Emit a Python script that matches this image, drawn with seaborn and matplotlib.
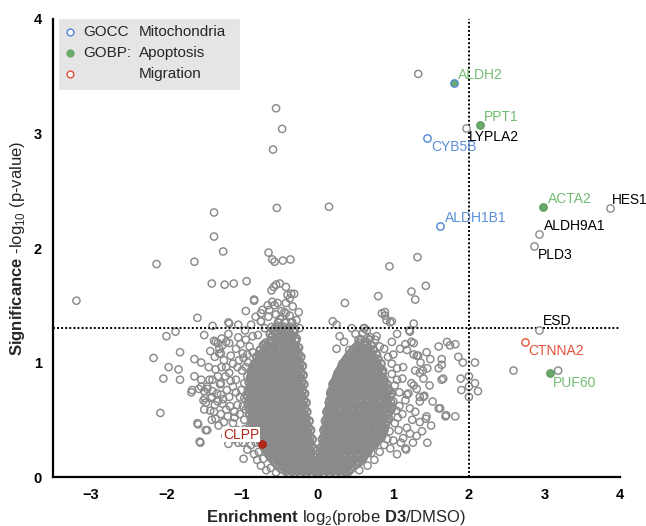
import matplotlib
matplotlib.use("Agg")
import matplotlib.pyplot as plt
import seaborn as sns
import pandas as pd
from matplotlib.patches import Rectangle

# dense core of the volcano: (-log10 p, [log2 enrichment values]) per row
left_rows = [
    (0.03, [-0.01, -0.08, -0.15, -0.23, -0.30, -0.38]),
    (0.05, [-0.03, -0.12, -0.19, -0.27, -0.34, -0.42]),
    (0.07, [-0.04, -0.11, -0.19, -0.26, -0.34, -0.41, -0.48]),
    (0.09, [-0.02, -0.08, -0.15, -0.22, -0.30, -0.37, -0.45, -0.51]),
    (0.11, [-0.04, -0.11, -0.18, -0.26, -0.33, -0.40, -0.47, -0.54]),
    (0.13, [-0.07, -0.15, -0.22, -0.30, -0.36, -0.44, -0.50, -0.57]),
    (0.15, [-0.07, -0.14, -0.22, -0.29, -0.37, -0.44, -0.52, -0.59]),
    (0.17, [-0.03, -0.10, -0.18, -0.25, -0.33, -0.40, -0.48, -0.55, -0.62]),
    (0.19, [-0.06, -0.13, -0.21, -0.28, -0.36, -0.43, -0.50, -0.57, -0.64]),
    (0.21, [-0.09, -0.17, -0.24, -0.32, -0.39, -0.47, -0.54, -0.61, -0.66]),
    (0.23, [-0.09, -0.16, -0.24, -0.31, -0.39, -0.46, -0.53, -0.61, -0.68]),
    (0.25, [-0.05, -0.12, -0.20, -0.27, -0.35, -0.42, -0.49, -0.57, -0.64, -0.70]),
    (0.27, [-0.08, -0.15, -0.23, -0.30, -0.38, -0.45, -0.52, -0.60, -0.67, -0.72]),
    (0.29, [-0.11, -0.19, -0.26, -0.34, -0.41, -0.49, -0.56, -0.63, -0.71]),
    (0.31, [-0.11, -0.18, -0.26, -0.33, -0.41, -0.48, -0.55, -0.63, -0.70, -0.76]),
    (0.33, [-0.07, -0.14, -0.22, -0.29, -0.37, -0.44, -0.51, -0.59, -0.66, -0.74]),
    (0.35, [-0.10, -0.17, -0.25, -0.32, -0.40, -0.47, -0.54, -0.62, -0.69, -0.77]),
    (0.37, [-0.13, -0.21, -0.28, -0.36, -0.43, -0.51, -0.58, -0.65, -0.73, -0.79]),
    (0.39, [-0.13, -0.20, -0.28, -0.35, -0.43, -0.50, -0.57, -0.65, -0.72, -0.80]),
    (0.41, [-0.09, -0.16, -0.24, -0.31, -0.39, -0.46, -0.53, -0.61, -0.68, -0.75, -0.82]),
    (0.43, [-0.12, -0.19, -0.27, -0.34, -0.42, -0.49, -0.56, -0.64, -0.71, -0.78, -0.85]),
    (0.45, [-0.15, -0.23, -0.30, -0.38, -0.45, -0.53, -0.60, -0.67, -0.75, -0.83]),
    (0.47, [-0.15, -0.22, -0.30, -0.37, -0.45, -0.52, -0.59, -0.67, -0.74, -0.81, -0.87]),
    (0.49, [-0.11, -0.18, -0.26, -0.33, -0.41, -0.48, -0.55, -0.63, -0.70, -0.78, -0.85]),
    (0.51, [-0.15, -0.22, -0.29, -0.37, -0.44, -0.51, -0.59, -0.66, -0.73, -0.81, -0.88]),
    (0.53, [-0.18, -0.26, -0.33, -0.40, -0.48, -0.55, -0.62, -0.70, -0.77, -0.85]),
    (0.55, [-0.18, -0.25, -0.33, -0.40, -0.48, -0.55, -0.62, -0.70, -0.77, -0.84, -0.90]),
    (0.57, [-0.14, -0.21, -0.28, -0.36, -0.43, -0.51, -0.58, -0.65, -0.73, -0.80, -0.87]),
    (0.59, [-0.17, -0.24, -0.31, -0.39, -0.46, -0.53, -0.61, -0.68, -0.75, -0.83, -0.90]),
    (0.61, [-0.21, -0.28, -0.35, -0.43, -0.50, -0.57, -0.65, -0.72, -0.79, -0.87]),
    (0.63, [-0.19, -0.26, -0.34, -0.41, -0.49, -0.56, -0.63, -0.71, -0.78, -0.85, -0.92]),
    (0.65, [-0.15, -0.22, -0.30, -0.37, -0.44, -0.52, -0.59, -0.66, -0.74, -0.81, -0.88]),
    (0.67, [-0.18, -0.25, -0.32, -0.40, -0.47, -0.54, -0.62, -0.69, -0.76, -0.84, -0.91]),
    (0.69, [-0.22, -0.29, -0.36, -0.44, -0.51, -0.58, -0.66, -0.73, -0.80, -0.88]),
    (0.71, [-0.21, -0.28, -0.36, -0.43, -0.51, -0.58, -0.65, -0.73, -0.80, -0.87, -0.93]),
    (0.73, [-0.17, -0.24, -0.32, -0.39, -0.47, -0.54, -0.62, -0.69, -0.76, -0.84, -0.90]),
    (0.75, [-0.20, -0.27, -0.34, -0.42, -0.49, -0.56, -0.64, -0.71, -0.78, -0.86, -0.92]),
    (0.77, [-0.23, -0.31, -0.38, -0.45, -0.53, -0.60, -0.68, -0.75, -0.82, -0.89]),
    (0.79, [-0.22, -0.29, -0.37, -0.44, -0.52, -0.59, -0.66, -0.74, -0.81, -0.88]),
    (0.81, [-0.18, -0.25, -0.33, -0.40, -0.48, -0.55, -0.62, -0.70, -0.77, -0.84]),
    (0.83, [-0.21, -0.28, -0.35, -0.43, -0.50, -0.57, -0.65, -0.72, -0.79, -0.87, -0.91]),
    (0.85, [-0.24, -0.32, -0.39, -0.47, -0.54, -0.61, -0.69, -0.76, -0.83, -0.89]),
    (0.87, [-0.23, -0.30, -0.38, -0.45, -0.53, -0.60, -0.67, -0.75, -0.82, -0.89]),
    (0.89, [-0.19, -0.26, -0.34, -0.41, -0.49, -0.56, -0.63, -0.71, -0.78, -0.85]),
    (0.91, [-0.22, -0.29, -0.36, -0.44, -0.51, -0.58, -0.66, -0.73, -0.80, -0.87]),
    (0.93, [-0.25, -0.33, -0.40, -0.47, -0.55, -0.62, -0.69, -0.77, -0.84]),
    (0.95, [-0.24, -0.31, -0.39, -0.46, -0.54, -0.61, -0.68, -0.76, -0.83]),
    (0.97, [-0.20, -0.27, -0.35, -0.42, -0.50, -0.57, -0.64, -0.72, -0.79, -0.85]),
    (0.99, [-0.23, -0.30, -0.37, -0.45, -0.52, -0.59, -0.67, -0.74, -0.81]),
    (1.01, [-0.26, -0.34, -0.41, -0.49, -0.56, -0.63, -0.71, -0.78]),
    (1.03, [-0.26, -0.33, -0.41, -0.48, -0.56, -0.63, -0.70, -0.78]),
    (1.05, [-0.22, -0.29, -0.37, -0.44, -0.52, -0.59, -0.66, -0.74, -0.81]),
    (1.07, [-0.25, -0.32, -0.39, -0.47, -0.54, -0.61, -0.69, -0.77]),
    (1.09, [-0.28, -0.36, -0.43, -0.51, -0.58, -0.65, -0.72]),
    (1.11, [-0.28, -0.36, -0.44, -0.52, -0.60, -0.68, -0.76]),
    (1.13, [-0.25, -0.33, -0.41, -0.50, -0.58, -0.64]),
    (1.15, [-0.30, -0.39, -0.48, -0.57, -0.66, -0.72]),
    (1.17, [-0.34, -0.43, -0.52, -0.61, -0.69]),
    (1.19, [-0.29, -0.37, -0.46, -0.55, -0.63]),
    (1.21, [-0.28, -0.38, -0.47, -0.56]),
    (1.23, [-0.33, -0.42, -0.51, -0.60]),
    (1.25, [-0.36, -0.45, -0.54, -0.63]),
    (1.27, [-0.31, -0.40, -0.49, -0.58]),
    (1.29, [-0.31, -0.41, -0.50]),
    (1.31, [-0.36, -0.45, -0.54]),
    (1.35, [-0.34, -0.43, -0.52]),
]

right_rows = [
    (0.03, [0.01, 0.08, 0.16, 0.24, 0.32, 0.38]),
    (0.05, [0.03, 0.12, 0.20, 0.28, 0.36, 0.41]),
    (0.07, [0.04, 0.12, 0.20, 0.28, 0.36, 0.44]),
    (0.09, [0.02, 0.07, 0.15, 0.23, 0.31, 0.39, 0.47]),
    (0.11, [0.03, 0.10, 0.18, 0.27, 0.35, 0.43, 0.51]),
    (0.13, [0.03, 0.10, 0.19, 0.27, 0.35, 0.44, 0.52, 0.55]),
    (0.15, [0.06, 0.14, 0.23, 0.31, 0.40, 0.48, 0.57]),
    (0.17, [0.04, 0.09, 0.18, 0.26, 0.35, 0.43, 0.52, 0.60]),
    (0.19, [0.05, 0.12, 0.20, 0.29, 0.37, 0.46, 0.54, 0.62]),
    (0.21, [0.06, 0.13, 0.21, 0.29, 0.37, 0.46, 0.54, 0.63, 0.66]),
    (0.23, [0.07, 0.16, 0.24, 0.33, 0.41, 0.50, 0.58, 0.67]),
    (0.25, [0.04, 0.10, 0.18, 0.27, 0.35, 0.44, 0.52, 0.61, 0.69]),
    (0.27, [0.06, 0.14, 0.22, 0.31, 0.39, 0.48, 0.56, 0.65, 0.73]),
    (0.29, [0.08, 0.14, 0.22, 0.31, 0.39, 0.48, 0.56, 0.65, 0.73, 0.76]),
    (0.31, [0.09, 0.18, 0.26, 0.35, 0.43, 0.52, 0.60, 0.69, 0.77]),
    (0.33, [0.06, 0.12, 0.20, 0.29, 0.37, 0.46, 0.54, 0.63, 0.71, 0.79]),
    (0.35, [0.08, 0.16, 0.24, 0.33, 0.41, 0.50, 0.58, 0.67, 0.75, 0.82]),
    (0.37, [0.10, 0.16, 0.24, 0.33, 0.41, 0.50, 0.58, 0.67, 0.75, 0.84]),
    (0.39, [0.11, 0.20, 0.28, 0.37, 0.45, 0.54, 0.62, 0.71, 0.79, 0.86]),
    (0.41, [0.08, 0.15, 0.24, 0.32, 0.41, 0.49, 0.58, 0.66, 0.75, 0.83, 0.88]),
    (0.43, [0.10, 0.18, 0.26, 0.35, 0.43, 0.52, 0.60, 0.69, 0.77, 0.86]),
    (0.45, [0.12, 0.17, 0.26, 0.34, 0.43, 0.51, 0.60, 0.68, 0.77, 0.85]),
    (0.47, [0.13, 0.22, 0.30, 0.39, 0.47, 0.56, 0.64, 0.73, 0.81, 0.90]),
    (0.49, [0.10, 0.16, 0.24, 0.33, 0.41, 0.50, 0.58, 0.67, 0.75, 0.84, 0.92]),
    (0.51, [0.12, 0.20, 0.28, 0.37, 0.45, 0.54, 0.62, 0.71, 0.79, 0.88, 0.94]),
    (0.53, [0.14, 0.20, 0.29, 0.37, 0.46, 0.54, 0.63, 0.71, 0.80, 0.88]),
    (0.55, [0.15, 0.24, 0.32, 0.41, 0.49, 0.58, 0.66, 0.75, 0.83, 0.92]),
    (0.57, [0.12, 0.19, 0.28, 0.36, 0.45, 0.53, 0.62, 0.70, 0.79, 0.87, 0.95]),
    (0.59, [0.14, 0.22, 0.30, 0.39, 0.47, 0.56, 0.64, 0.73, 0.81, 0.90, 0.97]),
    (0.61, [0.16, 0.22, 0.30, 0.39, 0.47, 0.56, 0.64, 0.73, 0.81, 0.90, 0.98]),
    (0.63, [0.17, 0.26, 0.34, 0.43, 0.51, 0.60, 0.68, 0.77, 0.85, 0.94]),
    (0.65, [0.15, 0.21, 0.30, 0.38, 0.47, 0.55, 0.64, 0.72, 0.81, 0.89, 0.97]),
    (0.67, [0.16, 0.24, 0.32, 0.41, 0.49, 0.58, 0.66, 0.75, 0.83, 0.92]),
    (0.69, [0.18, 0.24, 0.32, 0.41, 0.49, 0.58, 0.66, 0.75, 0.83, 0.92]),
    (0.71, [0.19, 0.28, 0.36, 0.45, 0.53, 0.62, 0.70, 0.79, 0.87, 0.96]),
    (0.73, [0.17, 0.23, 0.32, 0.40, 0.49, 0.57, 0.66, 0.74, 0.83, 0.91, 0.98]),
    (0.75, [0.18, 0.26, 0.34, 0.43, 0.51, 0.60, 0.68, 0.77, 0.85, 0.94]),
    (0.77, [0.20, 0.26, 0.34, 0.43, 0.51, 0.60, 0.68, 0.77, 0.85, 0.93]),
    (0.79, [0.21, 0.30, 0.38, 0.47, 0.55, 0.64, 0.72, 0.81, 0.89]),
    (0.81, [0.20, 0.25, 0.34, 0.42, 0.51, 0.59, 0.68, 0.76, 0.85, 0.92]),
    (0.83, [0.22, 0.29, 0.37, 0.46, 0.54, 0.63, 0.71, 0.80, 0.88]),
    (0.85, [0.24, 0.29, 0.37, 0.46, 0.54, 0.63, 0.71, 0.80, 0.88]),
    (0.87, [0.25, 0.33, 0.41, 0.50, 0.58, 0.67, 0.75, 0.84]),
    (0.89, [0.26, 0.31, 0.39, 0.48, 0.56, 0.65, 0.73, 0.82]),
    (0.91, [0.27, 0.35, 0.44, 0.52, 0.61, 0.69, 0.78, 0.86]),
    (0.93, [0.29, 0.35, 0.44, 0.52, 0.61, 0.69, 0.78, 0.86]),
    (0.95, [0.31, 0.39, 0.48, 0.56, 0.65, 0.73, 0.82]),
    (0.97, [0.32, 0.37, 0.46, 0.54, 0.63, 0.71, 0.80]),
    (0.99, [0.33, 0.42, 0.50, 0.59, 0.67, 0.76, 0.84]),
    (1.01, [0.36, 0.42, 0.50, 0.59, 0.67, 0.76]),
    (1.03, [0.38, 0.46, 0.55, 0.63, 0.72, 0.80]),
    (1.05, [0.40, 0.47, 0.55, 0.64, 0.73]),
    (1.07, [0.42, 0.51, 0.60, 0.69, 0.78]),
    (1.09, [0.45, 0.52, 0.61, 0.70]),
    (1.11, [0.47, 0.56, 0.65, 0.74]),
    (1.13, [0.50, 0.58, 0.67]),
    (1.15, [0.53, 0.62, 0.71]),
    (1.17, [0.55, 0.63]),
    (1.20, [0.57, 0.68]),
]

# scattered proteins outside the dense core
halo_pts = [
    # top / far left
    (-0.55, 3.22), (-0.47, 3.04), (-0.59, 2.86), (-0.54, 2.35), (0.15, 2.36),
    (-1.37, 2.31), (-1.37, 2.10), (-1.25, 1.97), (-0.65, 1.96), (-0.60, 1.90),
    (-0.57, 1.88), (-0.46, 1.89), (-0.36, 1.90), (-2.13, 1.86), (-1.63, 1.88),
    (-3.19, 1.54), (1.33, 3.52), (1.32, 1.92), (0.95, 1.84),
    (-1.40, 1.69), (-1.23, 1.68), (-1.11, 1.69), (-0.94, 1.71), (-0.84, 1.54),
    (-0.95, 1.45), (-1.59, 1.39), (-1.39, 1.32), (-1.18, 1.35), (-1.05, 1.33),
    (-1.88, 1.27), (-2.00, 1.23), (-1.50, 1.24), (-1.17, 1.34), (-0.75, 1.36),
    (-0.24, 1.30),
    # upper part of the left arm
    (-0.61, 1.63), (-0.58, 1.66), (-0.55, 1.68), (-0.50, 1.69), (-0.42, 1.66),
    (-0.40, 1.59), (-0.53, 1.52), (-0.60, 1.53), (-0.66, 1.50), (-0.73, 1.46),
    (-0.75, 1.43), (-0.48, 1.45), (-0.44, 1.44), (-0.75, 1.36), (-0.70, 1.30),
    (-0.61, 1.31), (-0.57, 1.30), (-0.79, 1.24), (-0.86, 1.23), (-0.35, 1.60),
    (-0.31, 1.60), (-0.37, 1.56), (-0.42, 1.52), (-0.42, 1.43), (-0.37, 1.41),
    (-0.33, 1.49), (-0.57, 1.50), (-0.64, 1.46), (-0.84, 1.55),
    (-0.88, 1.33), (-0.82, 1.40), (-0.65, 1.40), (-0.55, 1.42), (-0.50, 1.38),
    (-0.28, 1.37), (-0.25, 1.44),
    # left halo
    (-2.17, 1.04), (-2.04, 0.86), (-2.08, 0.56), (-1.97, 0.96), (-1.82, 1.09),
    (-1.84, 0.94), (-1.82, 0.85), (-1.63, 1.03), (-1.54, 1.00), (-1.63, 0.88),
    (-1.66, 0.76), (-1.67, 0.74), (-1.58, 0.46), (-1.55, 0.30), (-1.46, 0.41),
    (-1.51, 0.67), (-1.48, 0.65), (-1.54, 0.79), (-1.37, 1.19), (-1.27, 1.21),
    (-1.32, 1.17), (-1.17, 1.17), (-1.30, 1.12), (-1.28, 1.08), (-1.35, 0.94),
    (-1.27, 0.96), (-1.54, 0.85), (-1.43, 0.85), (-1.39, 0.75),
    (-1.57, 0.77), (-1.46, 0.77), (-1.29, 0.81), (-1.49, 0.69), (-1.40, 0.70),
    (-1.32, 0.66), (-1.50, 0.75), (-1.46, 0.79), (-1.39, 0.85), (-1.32, 0.88),
    (-1.28, 0.82), (-1.41, 0.69), (-1.50, 0.59), (-1.37, 0.57),
    (-1.35, 0.51), (-1.59, 0.47), (-1.48, 0.41), (-1.56, 0.31), (-1.18, 0.29),
    (-1.05, 0.30), (-0.98, 0.16), (-1.28, 0.72), (-1.26, 0.64), (-1.21, 0.59),
    (-1.19, 0.53), (-1.12, 0.47), (-1.10, 0.57), (-1.06, 0.63), (-1.17, 0.70),
    (-1.12, 0.79), (-1.08, 0.85), (-1.17, 0.91), (-1.21, 0.96), (-1.12, 0.99),
    (-1.04, 1.02), (-0.99, 1.08), (-0.93, 1.07), (-0.86, 1.09), (-1.30, 1.08),
    (-1.26, 1.15), (-1.35, 1.18), (-1.01, 0.76), (-0.97, 0.69),
    (-0.95, 0.59), (-0.97, 0.50), (-0.90, 0.44), (-0.93, 0.35), (-1.01, 0.38),
    (-1.06, 0.41), (-0.97, 0.82), (-0.93, 0.88), (-0.88, 0.93), (-0.95, 0.96),
    (-0.84, 0.99), (-0.81, 0.85), (-0.84, 0.61), (-0.86, 0.50), (-1.21, 1.18),
    (-0.98, 1.04), (-1.42, 1.10), (-1.36, 1.05), (-1.24, 1.02), (-1.15, 1.06),
    (-1.08, 1.12), (-1.02, 1.16), (-0.95, 1.20), (-0.90, 1.14), (-0.92, 1.00),
    (-1.00, 0.93), (-1.06, 0.96), (-1.15, 0.84), (-1.22, 0.88), (-1.20, 0.76),
    (-1.25, 0.68), (-1.33, 0.73), (-1.36, 0.63), (-1.42, 0.58), (-1.28, 0.55),
    (-1.24, 0.48), (-1.16, 0.62), (-1.03, 0.70), (-1.08, 0.74), (-0.99, 0.62),
    (-1.03, 0.55), (-1.10, 0.52), (-1.16, 0.40), (-1.22, 0.36), (-1.10, 0.33),
    (-0.96, 0.42), (-0.99, 0.30), (-0.93, 0.24), (-0.88, 0.28), (-0.84, 0.20),
    (-0.80, 0.15), (-0.75, 0.10), (-0.68, 0.06), (-0.85, 0.38), (-0.82, 0.30),
    (-0.78, 0.22), (-0.72, 0.16), (-0.62, 0.08), (-0.55, 0.04), (-1.31, 0.45),
    (-1.40, 0.50), (-1.44, 0.96), (-1.18, 1.25), (-1.05, 1.22), (-0.96, 1.28),
    # right arm upper part and right halo
    (0.20, 1.36), (0.25, 1.33), (0.29, 1.23), (0.36, 1.52), (0.45, 1.30),
    (0.54, 1.20), (0.62, 1.30), (0.65, 1.18), (0.78, 1.23), (0.80, 1.58),
    (0.85, 1.43), (0.89, 1.41), (0.91, 1.37), (0.98, 1.36), (1.24, 1.62),
    (1.29, 1.55), (1.27, 1.34), (1.24, 1.18), (1.43, 1.67), (0.89, 1.44),
    (0.96, 1.35), (0.61, 1.30), (0.65, 1.28), (0.60, 1.26), (0.76, 1.20),
    (1.21, 1.28), (0.82, 1.14), (0.65, 1.15), (0.42, 1.11),
    (1.22, 1.27), (1.27, 1.17), (1.60, 1.14), (1.71, 1.18), (1.75, 1.15),
    (1.82, 1.16), (1.44, 1.09), (1.49, 1.03), (1.64, 1.03), (1.86, 1.05),
    (1.92, 1.00), (2.08, 1.00), (1.64, 0.98), (1.27, 1.07), (1.33, 1.06),
    (1.18, 1.11), (1.09, 1.12), (1.00, 1.07), (0.98, 0.99), (1.13, 0.96),
    (1.29, 0.93), (1.35, 0.91), (1.40, 0.86), (1.24, 0.82), (1.31, 0.77),
    (1.40, 0.70), (1.20, 0.73), (1.16, 0.67), (1.35, 0.66), (1.29, 0.57),
    (1.44, 0.53), (1.35, 0.48), (1.18, 0.43), (1.31, 0.36), (1.16, 0.25),
    (1.00, 0.32), (1.13, 0.34), (1.07, 0.41), (0.96, 0.25), (1.64, 0.85),
    (1.62, 0.60), (1.69, 0.53), (1.66, 0.86), (1.60, 0.95), (1.39, 0.93),
    (1.27, 0.80), (1.35, 0.70), (1.41, 0.71), (1.18, 0.72),
    (1.31, 1.06), (1.16, 1.16), (1.43, 0.51), (1.17, 0.24),
    (0.60, 0.16), (0.71, 0.21), (1.05, 0.85), (1.08, 0.62), (1.06, 0.52),
    (0.98, 0.90), (1.02, 0.80), (1.08, 0.74), (1.12, 0.86), (1.05, 0.95),
    (1.00, 0.66), (1.04, 0.58), (1.12, 0.55), (1.02, 0.47), (0.95, 0.40),
    (0.92, 0.33), (0.88, 0.28), (0.82, 0.22), (0.75, 0.15), (0.66, 0.10),
    (0.55, 0.06), (0.85, 0.35), (0.90, 0.45), (1.22, 0.60), (1.25, 0.50),
    (1.22, 0.38), (1.10, 0.30), (1.05, 0.20), (0.93, 1.05), (0.88, 1.12),
    (0.98, 1.18), (1.05, 1.25), (0.70, 1.22), (0.50, 1.25), (0.35, 1.18),
    (0.25, 1.12), (1.36, 1.00), (1.45, 0.95), (1.48, 0.80), (1.52, 0.66),
    (1.50, 0.45), (1.38, 0.40), (1.26, 0.30), (1.45, 0.30),
    (2.00, 0.88), (2.00, 0.79), (2.00, 0.70), (1.89, 0.86), (1.90, 0.76),
    (2.08, 0.82), (2.12, 0.75), (1.82, 0.53), (1.70, 0.54), (1.60, 0.60),
    (2.59, 0.93), (3.18, 0.93),
]

# named proteins
hit_names = ["ALDH2", "PPT1", "LYPLA2", "CYB5B", "ALDH1B1", "ACTA2", "HES1",
             "ALDH9A1", "PLD3", "ESD", "CTNNA2", "PUF60", "CLPP"]
hit_x = [1.80, 2.15, 1.96, 1.44, 1.62, 2.98, 3.86, 2.93, 2.86, 2.93, 2.74, 3.07, -0.73]
hit_y = [3.44, 3.07, 3.05, 2.96, 2.19, 2.36, 2.35, 2.12, 2.02, 1.28, 1.18, 0.91, 0.29]
hit_group = ["mito_apop", "apop", "none", "mito", "mito", "apop", "none",
             "none", "none", "none", "migr", "apop", "clpp"]

legend_labels = ["GOCC  Mitochondria", "GOBP: Apoptosis", "Migration"]

# ---------------------------------------------------------------------
GRAY = "#8a8a8a"
BLUE = "#4f86d6"
GREEN = "#6aaa6a"
GREEN_TXT = "#72bd72"
BLUE_TXT = "#5b8fd9"
RED = "#e8503a"
DARKRED = "#b0261a"

sns.set_style("white")
plt.rcParams["font.family"] = ["Liberation Sans", "DejaVu Sans"]
plt.rcParams["mathtext.fontset"] = "custom"
plt.rcParams["mathtext.rm"] = "Liberation Sans"
plt.rcParams["mathtext.bf"] = "Liberation Sans:bold"

core = pd.DataFrame([(x, y) for y, xs in left_rows + right_rows for x in xs],
                    columns=["x", "y"])
halo = pd.DataFrame(halo_pts, columns=["x", "y"])

fig, ax = plt.subplots(figsize=(6.46, 5.26), dpi=100)
fig.subplots_adjust(left=0.082, right=0.960, bottom=0.093, top=0.964)

# the core overlaps so heavily it reads as solid grey in the original
sns.scatterplot(data=core, x="x", y="y", ax=ax, s=27, marker="o",
                facecolor="none", edgecolor=GRAY, linewidth=1.5, zorder=2)
sns.scatterplot(data=halo, x="x", y="y", ax=ax, s=27, marker="o",
                facecolor="none", edgecolor=GRAY, linewidth=1.05, zorder=2)

# threshold lines
ax.axvline(2, color="black", linestyle=(0, (1, 1.1)), linewidth=1.4, zorder=3)
ax.axhline(1.3, color="black", linestyle=(0, (1, 1.1)), linewidth=1.4, zorder=3)

hits = pd.DataFrame({"name": hit_names, "x": hit_x, "y": hit_y, "group": hit_group})
styles = {
    "none": dict(facecolor="white", edgecolor=GRAY),
    "mito": dict(facecolor="white", edgecolor=BLUE),
    "mito_apop": dict(facecolor=GREEN, edgecolor=BLUE),
    "apop": dict(facecolor=GREEN, edgecolor="#5f9a5f"),
    "migr": dict(facecolor="white", edgecolor=RED),
    "clpp": dict(facecolor=DARKRED, edgecolor=DARKRED),
}
for g, st in styles.items():
    sub = hits[hits["group"] == g]
    sns.scatterplot(data=sub, x="x", y="y", ax=ax, s=28, marker="o",
                    linewidth=1.0, zorder=4, **st)

# label placement (offsets in data units) and colours
label_pos = {
    "ALDH2": (0.05, 0.07, "left", GREEN_TXT),
    "PPT1": (0.05, 0.07, "left", GREEN_TXT),
    "LYPLA2": (0.04, -0.08, "left", "black"),
    "CYB5B": (0.06, -0.08, "left", BLUE_TXT),
    "ALDH1B1": (0.06, 0.07, "left", BLUE_TXT),
    "ACTA2": (0.07, 0.07, "left", GREEN_TXT),
    "HES1": (0.03, 0.07, "left", "black"),
    "ALDH9A1": (0.06, 0.07, "left", "black"),
    "PLD3": (0.05, -0.08, "left", "black"),
    "ESD": (0.05, 0.08, "left", "black"),
    "CTNNA2": (0.05, -0.08, "left", RED),
    "PUF60": (0.04, -0.09, "left", GREEN_TXT),
    "CLPP": (-0.04, 0.08, "right", DARKRED),
}
for name, x, y in zip(hit_names, hit_x, hit_y):
    dx, dy, ha, col = label_pos[name]
    kw = {}
    if name == "CLPP":
        kw["bbox"] = dict(facecolor="white", edgecolor="none", pad=0.5)
    ax.text(x + dx, y + dy, name, color=col, fontsize=9.8 if name == "HES1" else 10,
            ha=ha, va="center", zorder=5, **kw)

ax.set_xlim(-3.5, 4)
ax.set_ylim(0, 4)
ax.set_xticks(range(-3, 5))
ax.set_yticks(range(0, 5))
sns.despine(ax=ax)
for sp in ["left", "bottom"]:
    ax.spines[sp].set_linewidth(1.6)
    ax.spines[sp].set_color("black")
ax.tick_params(direction="out", length=5, width=1.6, labelsize=10.5, pad=3,
               colors="black")
for lbl in ax.get_xticklabels() + ax.get_yticklabels():
    lbl.set_fontweight("bold")

ax.set_xlabel(r"$\mathbf{Enrichment}$ log$_2$(probe $\mathbf{D3}$/DMSO)",
              fontsize=12, labelpad=4)
ax.set_ylabel(r"$\mathbf{Significance}$ -log$_{10}$ (p-value)",
              fontsize=12, labelpad=5)

# legend box drawn by hand so the category words line up
ax.add_patch(Rectangle((0.011, 0.845), 0.319, 0.155, transform=ax.transAxes,
                       facecolor="#e5e5e5", edgecolor="none", zorder=6))
leg_y = [0.972, 0.926, 0.880]
leg_face = ["white", GREEN, "white"]
leg_edge = [BLUE, GREEN, RED]
for yy, fc, ec in zip(leg_y, leg_face, leg_edge):
    ax.scatter([0.030], [yy], s=24, facecolor=fc, edgecolor=ec, linewidth=1.0,
               transform=ax.transAxes, zorder=7, clip_on=False)
ax.text(0.053, leg_y[0], "GOCC", transform=ax.transAxes, fontsize=11,
        va="center", zorder=7)
ax.text(0.053, leg_y[1], "GOBP:", transform=ax.transAxes, fontsize=11,
        va="center", zorder=7)
for yy, lab in zip(leg_y, legend_labels):
    word = lab.split()[-1]
    ax.text(0.151, yy, word, transform=ax.transAxes, fontsize=11,
            va="center", zorder=7)

fig.savefig("out.png", dpi=100)
